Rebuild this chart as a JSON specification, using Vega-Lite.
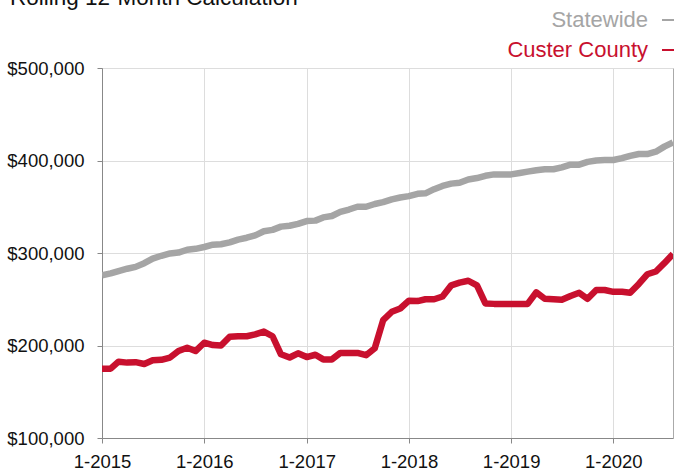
{
  "$schema": "https://vega.github.io/schema/vega-lite/v6.json",
  "width": 571,
  "height": 370,
  "autosize": "none",
  "padding": {"top": 68, "left": 102, "right": 1, "bottom": 32},
  "background": "white",
  "title": {
    "text": "Rolling 12-Month Calculation",
    "anchor": "start",
    "frame": "group",
    "orient": "top",
    "font": "Liberation Sans",
    "fontSize": 22.5,
    "fontWeight": "normal",
    "color": "#111111",
    "baseline": "alphabetic",
    "offset": 4,
    "dx": -92,
    "dy": 26
  },
  "config": {
    "view": {"stroke": "#aaaaaa", "strokeWidth": 1},
    "font": "Liberation Sans",
    "axis": {
      "labelFont": "Liberation Sans",
      "labelColor": "#111111",
      "gridColor": "#dddddd",
      "gridWidth": 1,
      "domainColor": "#888888",
      "tickColor": "#888888",
      "tickSize": 5,
      "title": null
    }
  },
  "data": {
    "values": [
      {"month": "2015/01/01", "Statewide": 276000, "Custer County": 175000},
      {"month": "2015/02/01", "Statewide": 278000, "Custer County": 175000},
      {"month": "2015/03/01", "Statewide": 280500, "Custer County": 182500},
      {"month": "2015/04/01", "Statewide": 283000, "Custer County": 181500},
      {"month": "2015/05/01", "Statewide": 285000, "Custer County": 182000},
      {"month": "2015/06/01", "Statewide": 289000, "Custer County": 180000},
      {"month": "2015/07/01", "Statewide": 294000, "Custer County": 184000},
      {"month": "2015/08/01", "Statewide": 297000, "Custer County": 184500},
      {"month": "2015/09/01", "Statewide": 299500, "Custer County": 187000},
      {"month": "2015/10/01", "Statewide": 300500, "Custer County": 194000},
      {"month": "2015/11/01", "Statewide": 303500, "Custer County": 197500},
      {"month": "2015/12/01", "Statewide": 304500, "Custer County": 194000},
      {"month": "2016/01/01", "Statewide": 306500, "Custer County": 203000},
      {"month": "2016/02/01", "Statewide": 309000, "Custer County": 200500},
      {"month": "2016/03/01", "Statewide": 309500, "Custer County": 200000},
      {"month": "2016/04/01", "Statewide": 311500, "Custer County": 209500},
      {"month": "2016/05/01", "Statewide": 314500, "Custer County": 210000},
      {"month": "2016/06/01", "Statewide": 316500, "Custer County": 210000},
      {"month": "2016/07/01", "Statewide": 319000, "Custer County": 212000},
      {"month": "2016/08/01", "Statewide": 323500, "Custer County": 215000},
      {"month": "2016/09/01", "Statewide": 325000, "Custer County": 210000},
      {"month": "2016/10/01", "Statewide": 328500, "Custer County": 190500},
      {"month": "2016/11/01", "Statewide": 329500, "Custer County": 187000},
      {"month": "2016/12/01", "Statewide": 331500, "Custer County": 191500},
      {"month": "2017/01/01", "Statewide": 334500, "Custer County": 187500},
      {"month": "2017/02/01", "Statewide": 335000, "Custer County": 190000},
      {"month": "2017/03/01", "Statewide": 338500, "Custer County": 185000},
      {"month": "2017/04/01", "Statewide": 340000, "Custer County": 185000},
      {"month": "2017/05/01", "Statewide": 344500, "Custer County": 192000},
      {"month": "2017/06/01", "Statewide": 347000, "Custer County": 192000},
      {"month": "2017/07/01", "Statewide": 350000, "Custer County": 192000},
      {"month": "2017/08/01", "Statewide": 350000, "Custer County": 189500},
      {"month": "2017/09/01", "Statewide": 353000, "Custer County": 197000},
      {"month": "2017/10/01", "Statewide": 355000, "Custer County": 227500},
      {"month": "2017/11/01", "Statewide": 358000, "Custer County": 236500},
      {"month": "2017/12/01", "Statewide": 360000, "Custer County": 240000},
      {"month": "2018/01/01", "Statewide": 361500, "Custer County": 248500},
      {"month": "2018/02/01", "Statewide": 364000, "Custer County": 248000},
      {"month": "2018/03/01", "Statewide": 364500, "Custer County": 250000},
      {"month": "2018/04/01", "Statewide": 369000, "Custer County": 250000},
      {"month": "2018/05/01", "Statewide": 372500, "Custer County": 253000},
      {"month": "2018/06/01", "Statewide": 375000, "Custer County": 265000},
      {"month": "2018/07/01", "Statewide": 376000, "Custer County": 268000},
      {"month": "2018/08/01", "Statewide": 379500, "Custer County": 270000},
      {"month": "2018/09/01", "Statewide": 381000, "Custer County": 265000},
      {"month": "2018/10/01", "Statewide": 383500, "Custer County": 245500},
      {"month": "2018/11/01", "Statewide": 385000, "Custer County": 245000},
      {"month": "2018/12/01", "Statewide": 385000, "Custer County": 245000},
      {"month": "2019/01/01", "Statewide": 385000, "Custer County": 245000},
      {"month": "2019/02/01", "Statewide": 386500, "Custer County": 245000},
      {"month": "2019/03/01", "Statewide": 388000, "Custer County": 245000},
      {"month": "2019/04/01", "Statewide": 389500, "Custer County": 257500},
      {"month": "2019/05/01", "Statewide": 390500, "Custer County": 250500},
      {"month": "2019/06/01", "Statewide": 390500, "Custer County": 250000},
      {"month": "2019/07/01", "Statewide": 392500, "Custer County": 249500},
      {"month": "2019/08/01", "Statewide": 395500, "Custer County": 253500},
      {"month": "2019/09/01", "Statewide": 395500, "Custer County": 257000},
      {"month": "2019/10/01", "Statewide": 398500, "Custer County": 250500},
      {"month": "2019/11/01", "Statewide": 400000, "Custer County": 260000},
      {"month": "2019/12/01", "Statewide": 400500, "Custer County": 260000},
      {"month": "2020/01/01", "Statewide": 400500, "Custer County": 258000},
      {"month": "2020/02/01", "Statewide": 402500, "Custer County": 258000},
      {"month": "2020/03/01", "Statewide": 405000, "Custer County": 257000},
      {"month": "2020/04/01", "Statewide": 407000, "Custer County": 266500},
      {"month": "2020/05/01", "Statewide": 407000, "Custer County": 277000},
      {"month": "2020/06/01", "Statewide": 409500, "Custer County": 280000},
      {"month": "2020/07/01", "Statewide": 415000, "Custer County": 289000},
      {"month": "2020/08/01", "Statewide": 419500, "Custer County": 299000}
    ]
  },
  "transform": [
    {"fold": ["Statewide", "Custer County"], "as": ["series", "value"]}
  ],
  "mark": {"type": "line", "strokeWidth": 6.5, "strokeJoin": "round", "strokeCap": "butt", "clip": true},
  "encoding": {
    "x": {
      "field": "month",
      "type": "temporal",
      "scale": {"domain": [{"year": 2015, "month": 1, "date": 1}, {"year": 2020, "month": 8, "date": 1}]},
      "axis": {
        "format": "%-m-%Y",
        "tickCount": {"interval": "year", "step": 1},
        "labelFontSize": 18.5,
        "labelPadding": 9,
        "labelFlush": false,
        "labelOverlap": false
      }
    },
    "y": {
      "field": "value",
      "type": "quantitative",
      "scale": {"domain": [100000, 500000], "nice": false},
      "axis": {
        "values": [100000, 200000, 300000, 400000, 500000],
        "format": "$,.0f",
        "labelFontSize": 18.5,
        "labelPadding": 13
      }
    },
    "color": {
      "field": "series",
      "type": "nominal",
      "sort": ["Statewide", "Custer County"],
      "scale": {"domain": ["Statewide", "Custer County"], "range": ["#a5a5a5", "#c8102e"]},
      "legend": {
        "title": null,
        "orient": "none",
        "legendX": 559,
        "legendY": -63,
        "symbolType": "stroke",
        "symbolSize": 784,
        "symbolStrokeWidth": 2,
        "labelFont": "Liberation Sans",
        "labelFontSize": 22,
        "labelAlign": "right",
        "labelOffset": -43,
        "labelLimit": 300,
        "rowPadding": 4,
        "encode": {
          "labels": {"update": {"fill": {"scale": "color", "field": "value"}}}
        }
      }
    }
  }
}
